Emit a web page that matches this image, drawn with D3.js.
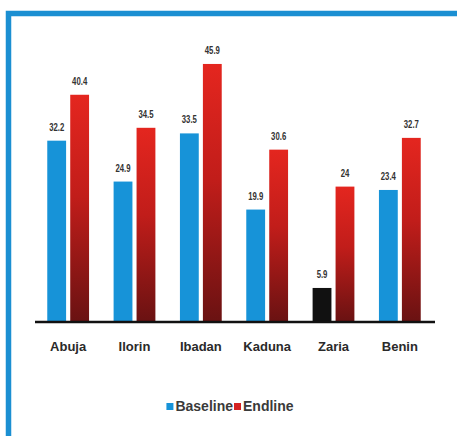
<!DOCTYPE html>
<html>
<head>
<meta charset="utf-8">
<script src="https://cdn.jsdelivr.net/npm/d3@7"></script>
<style>
  html, body { margin: 0; padding: 0; background: #fff; }
  svg { display: block; }
  text { font-family: "Liberation Sans", Arial, sans-serif; }
</style>
</head>
<body>
<script>
const cities = ["Abuja", "Ilorin", "Ibadan", "Kaduna", "Zaria", "Benin"];
const seriesNames = ["Baseline", "Endline"];
const baseline = [32.2, 24.9, 33.5, 19.9, 5.9, 23.4];
const endline = [40.4, 34.5, 45.9, 30.6, 24, 32.7];
const baselineLabels = ["32.2", "24.9", "33.5", "19.9", "5.9", "23.4"];
const endlineLabels = ["40.4", "34.5", "45.9", "30.6", "24", "32.7"];

const W = 457, H = 436;
const svg = d3.select("body").append("svg").attr("width", W).attr("height", H);

const defs = svg.append("defs");
const grad = defs.append("linearGradient").attr("id", "redGrad")
  .attr("x1", 0).attr("y1", 0).attr("x2", 0).attr("y2", 1);
grad.append("stop").attr("offset", "0%").attr("stop-color", "#e4261f");
grad.append("stop").attr("offset", "45%").attr("stop-color", "#c11d1a");
grad.append("stop").attr("offset", "100%").attr("stop-color", "#6a1212");

// frame
svg.append("rect").attr("x", 8.5).attr("y", 13.5).attr("width", W + 20).attr("height", H + 20)
  .attr("fill", "none").attr("stroke", "#1b8fd2").attr("stroke-width", 5.5);

const x0 = d3.scaleBand().domain(cities).range([34, 434]).paddingInner(0.37).paddingOuter(0.2);
const x1 = d3.scaleBand().domain(seriesNames).range([0, x0.bandwidth()]).paddingInner(0.18);
const y = d3.scaleLinear().domain([0, 50]).range([321, 41]);

const data = cities.map((c, i) => ({
  city: c,
  vals: [
    { s: "Baseline", v: baseline[i], label: baselineLabels[i] },
    { s: "Endline", v: endline[i], label: endlineLabels[i] }
  ]
}));

const groups = svg.append("g").selectAll("g").data(data).join("g")
  .attr("transform", d => `translate(${x0(d.city)},0)`);

groups.selectAll("rect").data(d => d.vals.map(v => ({ ...v, city: d.city }))).join("rect")
  .attr("x", d => x1(d.s))
  .attr("width", x1.bandwidth())
  .attr("y", d => y(d.v))
  .attr("height", d => y(0) - y(d.v))
  .attr("fill", d => d.s === "Endline" ? "url(#redGrad)" : (d.city === "Zaria" ? "#111111" : "#1793d8"));

// value labels (condensed)
groups.selectAll("g.lbl").data(d => d.vals).join("g").attr("class", "lbl")
  .attr("transform", d => `translate(${x1(d.s) + x1.bandwidth() / 2},${y(d.v) - 10}) scale(0.74,1)`)
  .append("text")
  .attr("text-anchor", "middle")
  .attr("font-size", 10.5).attr("font-weight", "bold").attr("fill", "#333")
  .text(d => d.label);

// axis line
const axis = d3.axisBottom(x0).tickSize(0).tickPadding(0);
const ax = svg.append("g").attr("transform", `translate(0,${y(0) + 1})`).call(axis);
ax.select(".domain").remove();
svg.append("line").attr("x1", 35).attr("x2", 435).attr("y1", y(0) + 1).attr("y2", y(0) + 1)
  .attr("stroke", "#111").attr("stroke-width", 2.5);
ax.selectAll(".tick text")
  .attr("y", 29).attr("dy", 0)
  .attr("font-size", 13).attr("font-weight", "bold").attr("fill", "#2a2a2a")
  .attr("font-family", "Liberation Sans, Arial, sans-serif");

// legend
const legend = svg.append("g");
const colors = { Baseline: "#1793d8", Endline: "#d42222" };
let lx = 0;
const items = [];
seriesNames.forEach(s => {
  const g = legend.append("g").attr("transform", `translate(${lx},0)`);
  g.append("rect").attr("x", 0).attr("y", -8).attr("width", 7).attr("height", 7).attr("fill", colors[s]);
  const t = g.append("text").attr("x", 9).attr("y", 0)
    .attr("font-size", 14).attr("font-weight", "bold").attr("fill", "#3a3a3a").text(s);
  lx += 9 + t.node().getComputedTextLength() + 1;
});
legend.attr("transform", `translate(${230.5 - lx / 2},411)`);
</script>
</body>
</html>
